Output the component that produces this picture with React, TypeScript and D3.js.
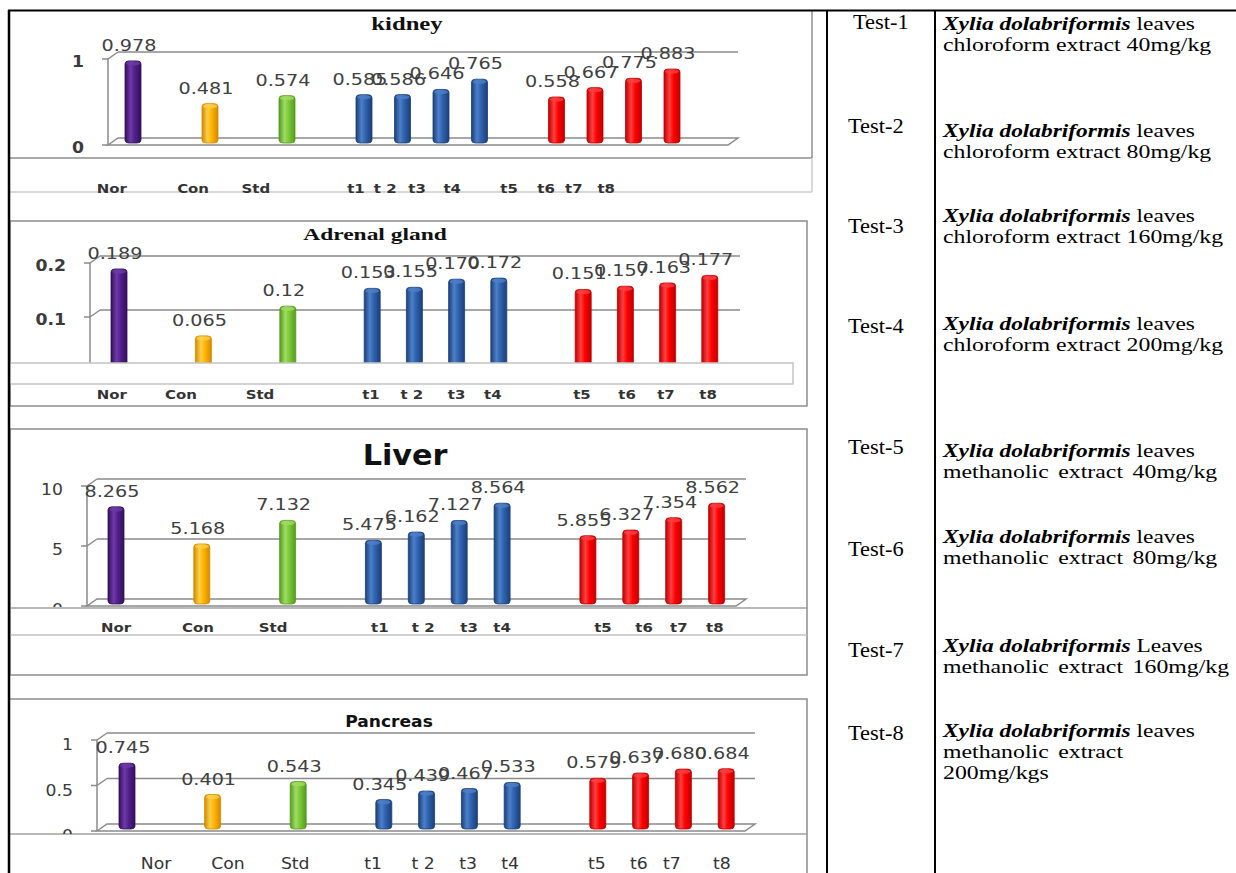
import React from "react";
import * as d3 from "d3";

// Treatment groups shown on every organ chart
const categories = ["Nor", "Con", "Std", "t1", "t 2", "t3", "t4", "t5", "t6", "t7", "t8"];
// Position of each group on the 15-slot category axis (gaps between groups)
const categorySlots = [0, 2, 4, 6, 7, 8, 9, 11, 12, 13, 14];
const groupKinds = ["normal", "control", "standard", "chloro", "chloro", "chloro", "chloro", "metha", "metha", "metha", "metha"];

// Organ values, kept as printed (trailing zeros included)
const kidneyValues = ["0.978", "0.481", "0.574", "0.585", "0.586", "0.646", "0.765", "0.558", "0.667", "0.775", "0.883"];
const adrenalValues = ["0.189", "0.065", "0.12", "0.153", "0.155", "0.170", "0.172", "0.151", "0.157", "0.163", "0.177"];
const liverValues = ["8.265", "5.168", "7.132", "5.475", "6.162", "7.127", "8.564", "5.855", "6.327", "7.354", "8.562"];
const pancreasValues = ["0.745", "0.401", "0.543", "0.345", "0.439", "0.467", "0.533", "0.579", "0.637", "0.680", "0.684"];

// Value-axis ticks
const kidneyTicks = [0, 1];
const adrenalTicks = [0.1, 0.2];
const liverTicks = [0, 5, 10];
const pancreasTicks = [0, 0.5, 1];

// Where each category caption sits, in slot units of the category axis
const kidneyLabelSlots = [-0.55, 1.56, 3.19, 5.79, 6.55, 7.38, 8.29, 9.77, 10.73, 11.45, 12.29];
const adrenalLabelSlots = [-0.17, 1.47, 3.34, 5.97, 6.94, 8.0, 8.86, 10.97, 12.04, 12.96, 13.96];
const liverLabelSlots = [0, 1.91, 3.66, 6.15, 7.16, 8.23, 9.0, 11.35, 12.31, 13.12, 13.96];
const pancreasLabelSlots = [0.68, 2.36, 3.93, 5.75, 6.92, 7.97, 8.95, 10.98, 11.96, 12.73, 13.9];

// Legend table
const testNames = ["Test-1", "Test-2", "Test-3", "Test-4", "Test-5", "Test-6", "Test-7", "Test-8"];
const speciesName = "Xylia dolabriformis";
const leafWords = ["leaves", "leaves", "leaves", "leaves", "leaves", "leaves", "Leaves", "leaves"];
const extractLines = [
  ["chloroform extract 40mg/kg"],
  ["chloroform extract 80mg/kg"],
  ["chloroform extract 160mg/kg"],
  ["chloroform extract 200mg/kg"],
  ["methanolic extract 40mg/kg"],
  ["methanolic extract 80mg/kg"],
  ["methanolic extract 160mg/kg"],
  ["methanolic extract", "200mg/kgs"],
];
const testBaselines = [29, 133, 233, 333, 454, 556, 657, 740];
const descBaselines = [30, 137, 222, 330, 457, 543, 652, 737];

const palette: Record<string, { dark: string; base: string; light: string }> = {
  normal: { dark: "#33105c", base: "#52208a", light: "#6d3aa8" },
  control: { dark: "#d48a00", base: "#ffb400", light: "#ffcf4a" },
  standard: { dark: "#559a1f", base: "#7cc83a", light: "#9fdc62" },
  chloro: { dark: "#1c3f78", base: "#2f62ae", light: "#4c80c8" },
  metha: { dark: "#c00000", base: "#ff0000", light: "#ff4040" },
};

type Panel = {
  key: string;
  title: string;
  titleFont: string;
  titleSize: number;
  titleWeight: string;
  titleSx: number;
  titleX: number;
  titleY: number;
  values: string[];
  ticks: number[];
  labelSlots: number[];
  max: number;
  x0: number;
  step: number;
  y0: number;
  yMax: number;
  axisX: number;
  rightEnd: number;
  labelY: number;
  labelBold: boolean;
  labelSize: number;
  tickBold: boolean;
  tickDy: number;
  clip?: [number, number];
};

const SANS = "'DejaVu Sans', Verdana, sans-serif";
const SERIF = "'Liberation Serif', 'Times New Roman', serif";

const panels: Panel[] = [
  {
    key: "kidney", title: "kidney", titleFont: SERIF, titleSize: 19, titleWeight: "bold", titleSx: 1.3,
    titleX: 407, titleY: 30, values: kidneyValues, ticks: kidneyTicks, labelSlots: kidneyLabelSlots,
    max: 1, x0: 133, step: 38.5, y0: 145, yMax: 59, axisX: 108, rightEnd: 738,
    labelY: 193, labelBold: true, labelSize: 13, tickBold: true, tickDy: 8,
  },
  {
    key: "adrenal", title: "Adrenal gland", titleFont: SERIF, titleSize: 17, titleWeight: "bold", titleSx: 1.38,
    titleX: 375, titleY: 240, values: adrenalValues, ticks: adrenalTicks, labelSlots: adrenalLabelSlots,
    max: 0.2, x0: 119, step: 42.2, y0: 371, yMax: 263, axisX: 90, rightEnd: 740,
    labelY: 399, labelBold: true, labelSize: 13, tickBold: true, tickDy: 8,
  },
  {
    key: "liver", title: "Liver", titleFont: SANS, titleSize: 28, titleWeight: "bold", titleSx: 1.08,
    titleX: 405, titleY: 465, values: liverValues, ticks: liverTicks, labelSlots: liverLabelSlots,
    max: 10, x0: 116, step: 42.9, y0: 606, yMax: 486, axisX: 87, rightEnd: 746,
    labelY: 632, labelBold: true, labelSize: 13, tickBold: false, tickDy: 9, clip: [429, 607],
  },
  {
    key: "pancreas", title: "Pancreas", titleFont: SANS, titleSize: 15, titleWeight: "bold", titleSx: 1.14,
    titleX: 389, titleY: 727, values: pancreasValues, ticks: pancreasTicks, labelSlots: pancreasLabelSlots,
    max: 1, x0: 127, step: 42.8, y0: 831, yMax: 740, axisX: 97, rightEnd: 755,
    labelY: 869, labelBold: false, labelSize: 15, tickBold: false, tickDy: 10, clip: [699, 834],
  },
];

function SText(props: {
  x: number; y: number; sx?: number; anchor?: string; size: number; family: string;
  weight?: string; fill?: string; italic?: boolean; wordSpacing?: number; children: React.ReactNode;
}) {
  const { x, y, sx = 1, anchor = "middle", size, family, weight = "normal", fill = "#000", italic, wordSpacing, children } = props;
  return (
    <text
      transform={`translate(${x},${y}) scale(${sx},1)`}
      textAnchor={anchor}
      fontSize={size}
      fontFamily={family}
      fontWeight={weight}
      fontStyle={italic ? "italic" : "normal"}
      fill={fill}
      wordSpacing={wordSpacing}
    >
      {children}
    </text>
  );
}

function OrganChart({ p }: { p: Panel }) {
  const x = d3.scaleLinear().domain([0, 14]).range([p.x0, p.x0 + 14 * p.step]);
  const y = d3.scaleLinear().domain([0, p.max]).range([p.y0, p.yMax]);
  const dx = 10;
  const dy = -7;
  const y0 = y(0);
  const topTick = d3.max(p.ticks) as number;
  const barW = 16;
  const grid = "#8a8a8a";

  return (
    <g>
      {p.clip && (
        <defs>
          <clipPath id={`clip-${p.key}`}>
            <rect x={0} y={p.clip[0]} width={820} height={p.clip[1] - p.clip[0]} />
          </clipPath>
        </defs>
      )}
      <SText x={p.titleX} y={p.titleY} sx={p.titleSx} size={p.titleSize} family={p.titleFont} weight={p.titleWeight} fill="#111">
        {p.title}
      </SText>
      <g clipPath={p.clip ? `url(#clip-${p.key})` : undefined}>
        {/* back walls: gridlines with depth connectors */}
        <g stroke={grid} strokeWidth={1.5} fill="none">
          {p.ticks.filter((t) => t > 0).map((t) => (
            <g key={t}>
              <line x1={p.axisX} y1={y(t)} x2={p.axisX + dx} y2={y(t) + dy} />
              <line x1={p.axisX + dx} y1={y(t) + dy} x2={p.rightEnd} y2={y(t) + dy} />
            </g>
          ))}
          <path d={`M${p.axisX},${y0} L${p.axisX + dx},${y0 + dy} L${p.rightEnd},${y0 + dy} L${p.rightEnd - dx},${y0} Z`} />
          <line x1={p.axisX} y1={y(topTick)} x2={p.axisX} y2={y0} />
          {p.ticks.map((t) => (
            <line key={t} x1={p.axisX - 6} y1={y(t)} x2={p.axisX} y2={y(t)} />
          ))}
        </g>
        {p.ticks.map((t) => (
          <SText key={t} x={p.axisX - 24} y={y(t) + p.tickDy} sx={1.15} anchor="end" size={15} family={SANS}
            weight={p.tickBold ? "bold" : "normal"} fill="#3a3a3a">
            {String(t)}
          </SText>
        ))}
        {/* cylinder bars */}
        {p.values.map((s, i) => {
          const v = +s;
          const cx = x(categorySlots[i]);
          const top = y(v);
          const kind = groupKinds[i];
          return (
            <g key={i}>
              <rect x={cx - barW / 2} y={top} width={barW} height={y0 - 2 - top} rx={4} ry={3}
                fill={`url(#grad-${kind})`} stroke={palette[kind].dark} strokeWidth={0.8} />
              <ellipse cx={cx} cy={top + 2.5} rx={barW / 2 - 1} ry={2.2} fill={palette[kind].light} opacity={0.8} />
            </g>
          );
        })}
        {/* value labels */}
        {p.values.map((s, i) => (
          <SText key={i} x={x(categorySlots[i]) - 4} y={y(+s) - 10} sx={1.2} size={16} family={SANS} fill="#404040">
            {s}
          </SText>
        ))}
      </g>
      {p.key === "adrenal" && (
        <rect x={10} y={363} width={783} height={21} fill="#fff" stroke="#c4c4c4" strokeWidth={1.5} />
      )}
      {/* category captions */}
      {categories.map((c, i) => (
        <SText key={c} x={x(p.labelSlots[i])} y={p.labelY} sx={1.15} size={p.labelSize} family={SANS}
          weight={p.labelBold ? "bold" : "normal"} fill="#333">
          {c}
        </SText>
      ))}
    </g>
  );
}

export default function App() {
  return (
    <svg width={1236} height={873} style={{ position: "absolute", left: 0, top: 0, display: "block", background: "#fff" }}>
      <defs>
        {Object.entries(palette).map(([k, c]) => (
          <linearGradient key={k} id={`grad-${k}`} x1="0" x2="1" y1="0" y2="0">
            <stop offset="0" stopColor={c.dark} />
            <stop offset="0.35" stopColor={c.light} />
            <stop offset="0.6" stopColor={c.base} />
            <stop offset="1" stopColor={c.dark} />
          </linearGradient>
        ))}
      </defs>
      <rect x={0} y={0} width={1236} height={873} fill="#fff" />

      {/* chart frames */}
      <g stroke="#8c8c8c" strokeWidth={1.5} fill="none">
        <line x1={10} y1={158} x2={812} y2={158} />
        <line x1={812} y1={10} x2={812} y2={158} />
        <line x1={10} y1={192} x2={812} y2={192} stroke="#cccccc" />
        <line x1={812} y1={158} x2={812} y2={192} stroke="#cccccc" />
        <rect x={10} y={221} width={797} height={185} />
        <rect x={10} y={429} width={797} height={246} />
        <line x1={10} y1={608} x2={807} y2={608} stroke="#a0a0a0" />
        <line x1={10} y1={635} x2={807} y2={635} stroke="#c0c0c0" />
        <path d="M10,699 H807 V873" />
        <line x1={10} y1={834} x2={807} y2={834} stroke="#a0a0a0" />
      </g>

      {panels.map((p) => (
        <OrganChart key={p.key} p={p} />
      ))}

      {/* table rules */}
      <g stroke="#000">
        <line x1={8} y1={10.5} x2={1236} y2={10.5} strokeWidth={2} />
        <line x1={9} y1={10} x2={9} y2={873} strokeWidth={2.5} />
        <line x1={827} y1={10} x2={827} y2={873} strokeWidth={2} />
        <line x1={935} y1={10} x2={935} y2={873} strokeWidth={2} />
      </g>

      {/* legend table */}
      {testNames.map((t, i) => (
        <SText key={t} x={i === 0 ? 853 : 848} y={testBaselines[i]} sx={1.12} anchor="start" size={20} family={SERIF}>
          {t}
        </SText>
      ))}
      {testNames.map((t, i) => (
        <g key={`d-${t}`}>
          <text transform={`translate(943,${descBaselines[i]}) scale(1.2,1)`} fontSize={19.5} fontFamily={SERIF} fill="#000">
            <tspan fontWeight="bold" fontStyle="italic">{speciesName}</tspan>
            <tspan>{" " + leafWords[i]}</tspan>
          </text>
          {extractLines[i].map((line, j) => (
            <SText key={j} x={943} y={descBaselines[i] + 21 * (j + 1)} sx={1.22} anchor="start" size={19.5}
              family={SERIF} wordSpacing={line.startsWith("methanolic") ? 3 : 0}>
              {line}
            </SText>
          ))}
        </g>
      ))}
    </svg>
  );
}
